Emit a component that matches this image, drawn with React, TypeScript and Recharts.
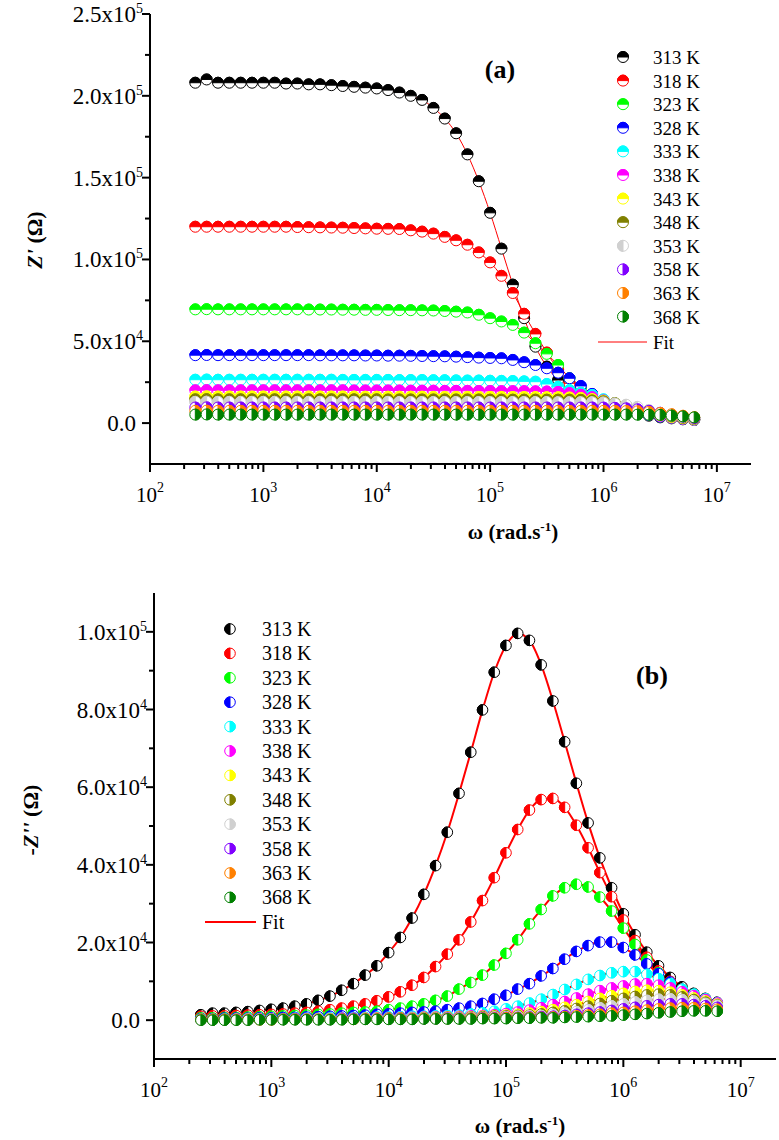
import React from 'react'
import { ComposedChart, Scatter, Line, XAxis, YAxis } from 'recharts'

// angular frequency (rad/s), 10 points per decade
const OMEGA = [
  251, 316, 398, 501, 631, 794, 1000, 1259, 1585, 1995,
  2512, 3162, 3981, 5012, 6310, 7943, 10000, 12589, 15849, 19953,
  25119, 31623, 39811, 50119, 63096, 79433, 100000, 125893, 158489, 199526,
  251189, 316228, 398107, 501187, 630957, 794328, 1000000, 1258925, 1584893, 1995262,
  2511886, 3162278, 3981072, 5011872, 6309573,
]

const TEMPS = ['313 K', '318 K', '323 K', '328 K', '333 K', '338 K', '343 K', '348 K', '353 K', '358 K', '363 K', '368 K']
const COLORS = ['#000000', '#FF0000', '#00FF00', '#0000FF', '#00FFFF', '#FF00FF', '#FFFF00', '#808000', '#D0D0D0', '#8000FF', '#FF8000', '#008000']
const HALF_A = ['top', 'top', 'top', 'top', 'top', 'top', 'top', 'top', 'left', 'right', 'right', 'right']
const HALF_B = ['left', 'left', 'left', 'left', 'right', 'right', 'right', 'right', 'right', 'right', 'right', 'right']

// Z' (ohm)
const re313 = [2.08e5, 2.1e5, 2.08e5, 2.08e5, 2.08e5, 2.08e5, 2.08e5, 2.08e5, 2.075e5, 2.075e5, 2.07e5, 2.07e5, 2.065e5, 2.06e5, 2.055e5, 2.05e5, 2.045e5, 2.035e5, 2.02e5, 2.0e5, 1.975e5, 1.926e5, 1.861e5, 1.771e5, 1.642e5, 1.478e5, 1.285e5, 1.066e5, 8.46e4, 6.41e4, 4.67e4, 3.45e4, 2.63e4, 2.02e4, 1.61e4, 1.31e4, 1.04e4, 8400, 6900, 5500, 4500, 3500, 2900, 2300, 1900]
const re318 = [1.2e5, 1.2e5, 1.2e5, 1.2e5, 1.2e5, 1.2e5, 1.2e5, 1.2e5, 1.2e5, 1.198e5, 1.197e5, 1.196e5, 1.195e5, 1.194e5, 1.192e5, 1.19e5, 1.188e5, 1.187e5, 1.186e5, 1.178e5, 1.17e5, 1.158e5, 1.138e5, 1.117e5, 1.09e5, 1.043e5, 9.82e4, 9.0e4, 7.95e4, 6.68e4, 5.45e4, 4.31e4, 3.25e4, 2.43e4, 1.86e4, 1.45e4, 1.16e4, 9400, 7600, 5900, 4900, 3900, 3100, 2500, 1900]
const re323 = [6.95e4, 6.96e4, 6.95e4, 6.95e4, 6.95e4, 6.95e4, 6.95e4, 6.95e4, 6.95e4, 6.95e4, 6.94e4, 6.94e4, 6.94e4, 6.93e4, 6.93e4, 6.92e4, 6.92e4, 6.91e4, 6.9e4, 6.9e4, 6.89e4, 6.88e4, 6.85e4, 6.81e4, 6.76e4, 6.62e4, 6.41e4, 6.21e4, 6.0e4, 5.53e4, 4.88e4, 4.23e4, 3.55e4, 2.74e4, 2.12e4, 1.61e4, 1.24e4, 1.0e4, 8000, 6300, 5000, 3900, 3100, 2500, 2000]
const re328 = [4.15e4, 4.16e4, 4.15e4, 4.15e4, 4.15e4, 4.15e4, 4.15e4, 4.15e4, 4.15e4, 4.15e4, 4.15e4, 4.14e4, 4.14e4, 4.14e4, 4.14e4, 4.13e4, 4.13e4, 4.12e4, 4.12e4, 4.11e4, 4.1e4, 4.09e4, 4.08e4, 4.06e4, 4.03e4, 4.0e4, 3.98e4, 3.96e4, 3.86e4, 3.72e4, 3.55e4, 3.35e4, 3.08e4, 2.74e4, 2.27e4, 1.78e4, 1.37e4, 1.04e4, 8000, 5900, 4900, 3900, 3300, 2500, 2000]
const re333 = [2.65e4, 2.66e4, 2.65e4, 2.65e4, 2.65e4, 2.65e4, 2.65e4, 2.65e4, 2.65e4, 2.65e4, 2.65e4, 2.65e4, 2.65e4, 2.64e4, 2.64e4, 2.64e4, 2.64e4, 2.64e4, 2.63e4, 2.63e4, 2.63e4, 2.62e4, 2.62e4, 2.61e4, 2.6e4, 2.6e4, 2.59e4, 2.58e4, 2.57e4, 2.55e4, 2.53e4, 2.39e4, 2.22e4, 2.02e4, 1.86e4, 1.72e4, 1.45e4, 1.2e4, 9600, 7600, 5900, 4700, 3700, 2900, 2100]
const re338 = [2.0e4, 2.01e4, 2.0e4, 2.0e4, 2.0e4, 2.0e4, 2.0e4, 2.0e4, 2.0e4, 2.0e4, 2.0e4, 2.0e4, 2.0e4, 2.0e4, 1.99e4, 1.99e4, 1.99e4, 1.99e4, 1.99e4, 1.98e4, 1.98e4, 1.98e4, 1.97e4, 1.97e4, 1.97e4, 1.96e4, 1.96e4, 1.95e4, 1.95e4, 1.95e4, 1.94e4, 1.93e4, 1.9e4, 1.83e4, 1.73e4, 1.58e4, 1.38e4, 1.15e4, 9300, 7300, 5700, 4400, 3400, 2700, 2100]
const re343 = [1.62e4, 1.63e4, 1.62e4, 1.62e4, 1.62e4, 1.62e4, 1.62e4, 1.62e4, 1.62e4, 1.62e4, 1.62e4, 1.62e4, 1.62e4, 1.62e4, 1.62e4, 1.61e4, 1.61e4, 1.61e4, 1.61e4, 1.61e4, 1.61e4, 1.6e4, 1.6e4, 1.6e4, 1.6e4, 1.6e4, 1.6e4, 1.6e4, 1.59e4, 1.59e4, 1.59e4, 1.58e4, 1.58e4, 1.56e4, 1.53e4, 1.46e4, 1.36e4, 1.2e4, 1.0e4, 8000, 6200, 4800, 3700, 2900, 2300]
const re348 = [1.45e4, 1.46e4, 1.45e4, 1.45e4, 1.45e4, 1.45e4, 1.45e4, 1.45e4, 1.45e4, 1.45e4, 1.45e4, 1.45e4, 1.45e4, 1.45e4, 1.45e4, 1.45e4, 1.45e4, 1.44e4, 1.44e4, 1.44e4, 1.44e4, 1.44e4, 1.44e4, 1.44e4, 1.44e4, 1.44e4, 1.43e4, 1.43e4, 1.43e4, 1.43e4, 1.43e4, 1.43e4, 1.43e4, 1.43e4, 1.42e4, 1.38e4, 1.32e4, 1.22e4, 1.08e4, 8800, 7000, 5400, 4100, 3200, 2500]
const re353 = [1.3e4, 1.31e4, 1.3e4, 1.3e4, 1.3e4, 1.3e4, 1.3e4, 1.3e4, 1.3e4, 1.3e4, 1.3e4, 1.3e4, 1.3e4, 1.3e4, 1.3e4, 1.3e4, 1.3e4, 1.3e4, 1.29e4, 1.29e4, 1.29e4, 1.29e4, 1.29e4, 1.29e4, 1.29e4, 1.29e4, 1.29e4, 1.29e4, 1.29e4, 1.29e4, 1.29e4, 1.29e4, 1.28e4, 1.28e4, 1.28e4, 1.28e4, 1.26e4, 1.2e4, 1.12e4, 9900, 8000, 6300, 4900, 3800, 2900]
const re358 = [9500, 9600, 9500, 9500, 9500, 9500, 9500, 9500, 9500, 9500, 9500, 9500, 9500, 9500, 9500, 9500, 9500, 9500, 9500, 9500, 9500, 9500, 9500, 9500, 9500, 9500, 9500, 9500, 9500, 9500, 9500, 9500, 9500, 9500, 9500, 9500, 9450, 9300, 9000, 8400, 7500, 6300, 5100, 4000, 3100]
const re363 = [7500, 7600, 7500, 7500, 7500, 7500, 7500, 7500, 7500, 7500, 7500, 7500, 7500, 7500, 7500, 7500, 7500, 7500, 7500, 7500, 7500, 7500, 7500, 7500, 7500, 7500, 7500, 7500, 7500, 7500, 7500, 7500, 7500, 7500, 7500, 7500, 7500, 7450, 7350, 7200, 6800, 6200, 5400, 4500, 3600]
const re368 = [5200, 5300, 5200, 5200, 5200, 5200, 5200, 5200, 5200, 5200, 5200, 5200, 5200, 5200, 5200, 5200, 5200, 5200, 5200, 5200, 5200, 5200, 5200, 5200, 5200, 5200, 5200, 5200, 5200, 5200, 5200, 5200, 5200, 5200, 5200, 5200, 5200, 5200, 5200, 5150, 5100, 5000, 4600, 4100, 3500]

// -Z'' (ohm)
const im313 = [1400, 1800, 1800, 2000, 2200, 2500, 2800, 3100, 3600, 4200, 5100, 6200, 7700, 9400, 1.16e4, 1.4e4, 1.74e4, 2.13e4, 2.63e4, 3.24e4, 3.98e4, 4.84e4, 5.84e4, 6.9e4, 7.99e4, 8.96e4, 9.65e4, 9.96e4, 9.78e4, 9.15e4, 8.22e4, 7.17e4, 6.1e4, 5.08e4, 4.18e4, 3.41e4, 2.74e4, 2.2e4, 1.75e4, 1.4e4, 1.1e4, 8600, 6900, 5600, 4600]
const im318 = [1000, 1100, 1100, 1200, 1300, 1400, 1500, 1600, 1800, 2000, 2300, 2700, 3100, 3600, 4200, 5000, 6000, 7300, 9000, 1.1e4, 1.38e4, 1.7e4, 2.07e4, 2.53e4, 3.08e4, 3.67e4, 4.31e4, 4.91e4, 5.41e4, 5.68e4, 5.71e4, 5.48e4, 5.02e4, 4.44e4, 3.8e4, 3.18e4, 2.58e4, 2.05e4, 1.62e4, 1.27e4, 1.0e4, 8000, 6400, 5200, 4300]
const im323 = [600, 600, 700, 700, 800, 900, 1000, 1100, 1200, 1300, 1500, 1600, 1800, 2000, 2100, 2300, 2700, 3100, 3600, 4200, 5100, 6200, 8000, 9700, 1.16e4, 1.42e4, 1.72e4, 2.07e4, 2.48e4, 2.85e4, 3.2e4, 3.41e4, 3.5e4, 3.43e4, 3.17e4, 2.81e4, 2.37e4, 1.95e4, 1.55e4, 1.22e4, 9500, 7500, 6000, 5000, 4200]
const im328 = [400, 400, 500, 500, 500, 600, 600, 700, 700, 800, 900, 1000, 1100, 1200, 1300, 1500, 1600, 1800, 2000, 2100, 2300, 2700, 3100, 3600, 4300, 5400, 6400, 8000, 9400, 1.14e4, 1.33e4, 1.57e4, 1.77e4, 1.92e4, 2.01e4, 2.01e4, 1.87e4, 1.68e4, 1.45e4, 1.2e4, 9800, 7900, 6300, 5100, 4300]
const im333 = [300, 300, 300, 300, 400, 400, 400, 400, 500, 500, 500, 600, 600, 700, 700, 800, 800, 900, 1000, 1000, 1100, 1200, 1300, 1600, 1900, 2300, 2900, 3600, 4400, 5400, 6600, 7900, 9200, 1.05e4, 1.15e4, 1.22e4, 1.25e4, 1.25e4, 1.18e4, 1.07e4, 9400, 8000, 6700, 5500, 4500]
const im338 = [200, 200, 200, 300, 300, 300, 300, 300, 400, 400, 400, 400, 500, 500, 500, 600, 600, 700, 700, 800, 800, 900, 1000, 1100, 1200, 1400, 1700, 2100, 2600, 3200, 4000, 4800, 5700, 6700, 7600, 8300, 8800, 9300, 9400, 9000, 8300, 7300, 6300, 5300, 4400]
const im343 = [200, 200, 200, 200, 200, 300, 300, 300, 300, 300, 400, 400, 400, 400, 500, 500, 500, 600, 600, 700, 700, 800, 800, 900, 1000, 1100, 1300, 1500, 1800, 2200, 2700, 3300, 4000, 4800, 5600, 6300, 6900, 7400, 7700, 7600, 7200, 6500, 5700, 4900, 4100]
const im348 = [200, 200, 200, 200, 200, 200, 200, 300, 300, 300, 300, 300, 400, 400, 400, 400, 500, 500, 500, 600, 600, 700, 700, 800, 900, 1000, 1100, 1200, 1300, 1600, 2000, 2400, 3000, 3600, 4300, 5000, 5600, 6100, 6500, 6700, 6500, 6000, 5300, 4600, 3900]
const im353 = [100, 100, 100, 200, 200, 200, 200, 200, 200, 300, 300, 300, 300, 300, 400, 400, 400, 400, 500, 500, 500, 600, 600, 700, 700, 800, 900, 1000, 1100, 1200, 1500, 1800, 2200, 2700, 3200, 3700, 4200, 4700, 5100, 5400, 5500, 5300, 4900, 4300, 3800]
const im358 = [100, 100, 100, 100, 100, 200, 200, 200, 200, 200, 200, 200, 300, 300, 300, 300, 300, 400, 400, 400, 400, 500, 500, 500, 600, 600, 700, 700, 800, 900, 1000, 1200, 1500, 1800, 2100, 2500, 2900, 3300, 3700, 4000, 4200, 4200, 4000, 3700, 3300]
const im363 = [100, 100, 100, 100, 100, 100, 100, 200, 200, 200, 200, 200, 200, 200, 300, 300, 300, 300, 300, 400, 400, 400, 400, 500, 500, 500, 600, 600, 700, 700, 800, 900, 1100, 1300, 1500, 1800, 2000, 2300, 2600, 2900, 3100, 3200, 3200, 3000, 2800]
const im368 = [0, 0, 0, 0, 0, 100, 100, 100, 100, 100, 100, 100, 100, 200, 200, 200, 200, 200, 200, 300, 300, 300, 300, 300, 400, 400, 400, 500, 500, 600, 600, 700, 800, 900, 1000, 1100, 1300, 1500, 1700, 1900, 2100, 2300, 2400, 2400, 2300]

const X_MAJOR = [1e2, 1e3, 1e4, 1e5, 1e6, 1e7]
const X_MINOR = [
  200, 300, 400, 500, 600, 700, 800, 900,
  2000, 3000, 4000, 5000, 6000, 7000, 8000, 9000,
  2e4, 3e4, 4e4, 5e4, 6e4, 7e4, 8e4, 9e4,
  2e5, 3e5, 4e5, 5e5, 6e5, 7e5, 8e5, 9e5,
  2e6, 3e6, 4e6, 5e6, 6e6, 7e6, 8e6, 9e6,
]
const YA_MAJOR = [0, 5e4, 1e5, 1.5e5, 2e5, 2.5e5]
const YA_MINOR = [2.5e4, 7.5e4, 1.25e5, 1.75e5, 2.25e5]
const YA_LABELS = ['0.0', '5.0x10|4', '1.0x10|5', '1.5x10|5', '2.0x10|5', '2.5x10|5']
const YB_MAJOR = [0, 2e4, 4e4, 6e4, 8e4, 1e5]
const YB_MINOR = [1e4, 3e4, 5e4, 7e4, 9e4]
const YB_LABELS = ['0.0', '2.0x10|4', '4.0x10|4', '6.0x10|4', '8.0x10|4', '1.0x10|5']

const RE = [re313, re318, re323, re328, re333, re338, re343, re348, re353, re358, re363, re368]
const IM = [im313, im318, im323, im328, im333, im338, im343, im348, im353, im358, im363, im368]

const toTable = (series: number[][]) =>
  OMEGA.map((w, i) => {
    const row: Record<string, number> = { w }
    series.forEach((s, k) => { row['s' + k] = s[i] })
    return row
  })

const tableA = toTable(RE)
const tableB = toTable(IM)

const SERIF = 'Liberation Serif, Times New Roman, serif'

function HalfMarker({ cx, cy, r, color, half }: { cx: number; cy: number; r: number; color: string; half: string }) {
  if (cx == null || cy == null) return null
  let d = ''
  if (half === 'top') d = `M${cx - r},${cy} A${r},${r} 0 0 1 ${cx + r},${cy} Z`
  else if (half === 'left') d = `M${cx},${cy - r} A${r},${r} 0 0 0 ${cx},${cy + r} Z`
  else d = `M${cx},${cy - r} A${r},${r} 0 0 1 ${cx},${cy + r} Z`
  return (
    <g>
      <circle cx={cx} cy={cy} r={r} fill="#fff" stroke={color} strokeWidth={1} />
      <path d={d} fill={color} stroke={color} strokeWidth={1} />
    </g>
  )
}

function XTick(props: any) {
  const { x, y, payload } = props
  const v = payload.value
  const major = X_MAJOR.includes(v)
  const exp = Math.round(Math.log10(v))
  return (
    <g>
      <line x1={x} x2={x} y1={y} y2={y + (major ? 8 : 5)} stroke="#000" strokeWidth={2} />
      {major && (
        <text x={x} y={y + 38} textAnchor="middle" fontFamily={SERIF} fontSize={21} fill="#000">
          10<tspan dy={-10} fontSize={14}>{exp}</tspan>
        </text>
      )}
    </g>
  )
}

function makeYTick(majors: number[], labels: string[]) {
  return (props: any) => {
    const { x, y, payload } = props
    const idx = majors.indexOf(payload.value)
    const major = idx >= 0
    const [base, sup] = major ? labels[idx].split('|') : ['', '']
    return (
      <g>
        <line x1={x} x2={x - (major ? 8 : 5)} y1={y} y2={y} stroke="#000" strokeWidth={2} />
        {major && (
          <text x={x - 14} y={y + 8} textAnchor="end" fontFamily={SERIF} fontSize={23} fill="#000">{base}</text>
        )}
        {major && sup && (
          <text x={x - 14} y={y - 1} textAnchor="start" fontFamily={SERIF} fontSize={14} fill="#000">{sup}</text>
        )}
      </g>
    )
  }
}

function Panel(props: {
  table: Record<string, number>[]
  halves: string[]
  height: number
  margin: { top: number; right: number; bottom: number; left: number }
  yDomain: [number, number]
  yMajor: number[]
  yMinor: number[]
  yLabels: string[]
  fitWidth: number
  r: number
}) {
  const { table, halves, height, margin, yDomain, yMajor, yMinor, yLabels, fitWidth, r } = props
  const axisLine = { stroke: '#000', strokeWidth: 2 }
  return (
    <ComposedChart width={779} height={height} data={table} margin={margin}>
      <XAxis xAxisId="b" dataKey="w" type="number" scale="log" domain={[100, 2e7]} allowDataOverflow
        ticks={[...X_MAJOR, ...X_MINOR]} interval={0} tick={<XTick />} tickLine={false} tickSize={0} tickMargin={0}
        height={40} axisLine={axisLine} />
      <XAxis xAxisId="t" dataKey="w" orientation="top" type="number" scale="log" domain={[100, 2e7]} allowDataOverflow
        height={0} tick={false} tickLine={false} axisLine={axisLine} />
      <YAxis yAxisId="l" type="number" domain={yDomain} allowDataOverflow ticks={[...yMajor, ...yMinor]} interval={0}
        tick={makeYTick(yMajor, yLabels)} tickLine={false} tickSize={0} tickMargin={0} width={100} axisLine={axisLine} />
      <YAxis yAxisId="r" orientation="right" type="number" domain={yDomain} allowDataOverflow width={0}
        tick={false} tickLine={false} axisLine={axisLine} />
      {halves.map((h, k) => (
        <Scatter key={'p' + k} xAxisId="b" yAxisId="l" data={table} dataKey={'s' + k} isAnimationActive={false}
          shape={(p: any) => <HalfMarker cx={p.cx} cy={p.cy} r={r} color={COLORS[k]} half={h} />} />
      ))}
      {halves.map((_, k) => (
        <Line key={'f' + k} xAxisId="b" yAxisId="l" type="monotone" dataKey={'s' + k} stroke="#FF0000"
          strokeWidth={fitWidth} dot={false} activeDot={false} isAnimationActive={false} />
      ))}
    </ComposedChart>
  )
}

function Legend({ x, y0, step, fitY, lineX1, lineX2, textX, halves, r, fitWidth, fontSize }: any) {
  return (
    <g>
      {TEMPS.map((t, k) => (
        <g key={t}>
          <HalfMarker cx={x} cy={y0 + step * k} r={r} color={COLORS[k]} half={halves[k]} />
          <text x={textX} y={y0 + step * k + 7} fontFamily={SERIF} fontSize={fontSize} fill="#000">{t}</text>
        </g>
      ))}
      <line x1={lineX1} x2={lineX2} y1={fitY} y2={fitY} stroke="#FF0000" strokeWidth={fitWidth} />
      <text x={textX} y={fitY + 7} fontFamily={SERIF} fontSize={fontSize} fill="#000">Fit</text>
    </g>
  )
}

export default function App() {
  return (
    <div style={{ position: 'absolute', left: 0, top: 0, width: 779, height: 1140, background: '#fff' }}>
      <div style={{ position: 'absolute', left: 0, top: 0 }}>
        <Panel table={tableA} halves={HALF_A} height={540}
          margin={{ top: 14, right: 28, bottom: 36, left: 50 }}
          yDomain={[-2.5e4, 2.5e5]} yMajor={YA_MAJOR} yMinor={YA_MINOR} yLabels={YA_LABELS} fitWidth={1} r={5.5} />
      </div>
      <div style={{ position: 'absolute', left: 0, top: 560 }}>
        <Panel table={tableB} halves={HALF_B} height={580}
          margin={{ top: 33, right: 3, bottom: 41, left: 54 }}
          yDomain={[-1e4, 1.1e5]} yMajor={YB_MAJOR} yMinor={YB_MINOR} yLabels={YB_LABELS} fitWidth={2} r={5.3} />
      </div>
      <svg width={779} height={1140} style={{ position: 'absolute', left: 0, top: 0, pointerEvents: 'none' }}>
        <Legend x={623} y0={57} step={23.6} fitY={342} lineX1={598} lineX2={647} textX={653}
          halves={HALF_A} r={5.5} fitWidth={1} fontSize={19} />
        <Legend x={230} y0={629} step={24.4} fitY={922} lineX1={205} lineX2={256} textX={262}
          halves={HALF_B} r={5.3} fitWidth={2} fontSize={20} />
        <text x={500} y={78} textAnchor="middle" fontFamily={SERIF} fontWeight="bold" fontSize={26}>(a)</text>
        <text x={652} y={684} textAnchor="middle" fontFamily={SERIF} fontWeight="bold" fontSize={26}>(b)</text>
        <text x={513} y={539} textAnchor="middle" fontFamily={SERIF} fontWeight="bold" fontSize={21}>
          ω (rad.s<tspan dy={-8} fontSize={13}>-1</tspan><tspan dy={8}>)</tspan>
        </text>
        <text x={520} y={1133} textAnchor="middle" fontFamily={SERIF} fontWeight="bold" fontSize={21}>
          ω (rad.s<tspan dy={-8} fontSize={13}>-1</tspan><tspan dy={8}>)</tspan>
        </text>
        <text transform="translate(42,240) rotate(-90)" textAnchor="middle" fontFamily={SERIF} fontWeight="bold" fontSize={22}>
          <tspan fontStyle="italic">Z'</tspan> (Ω)
        </text>
        <text transform="translate(38,820) rotate(-90)" textAnchor="middle" fontFamily={SERIF} fontWeight="bold" fontSize={22}>
          -<tspan fontStyle="italic">Z''</tspan> (Ω)
        </text>
      </svg>
    </div>
  )
}
